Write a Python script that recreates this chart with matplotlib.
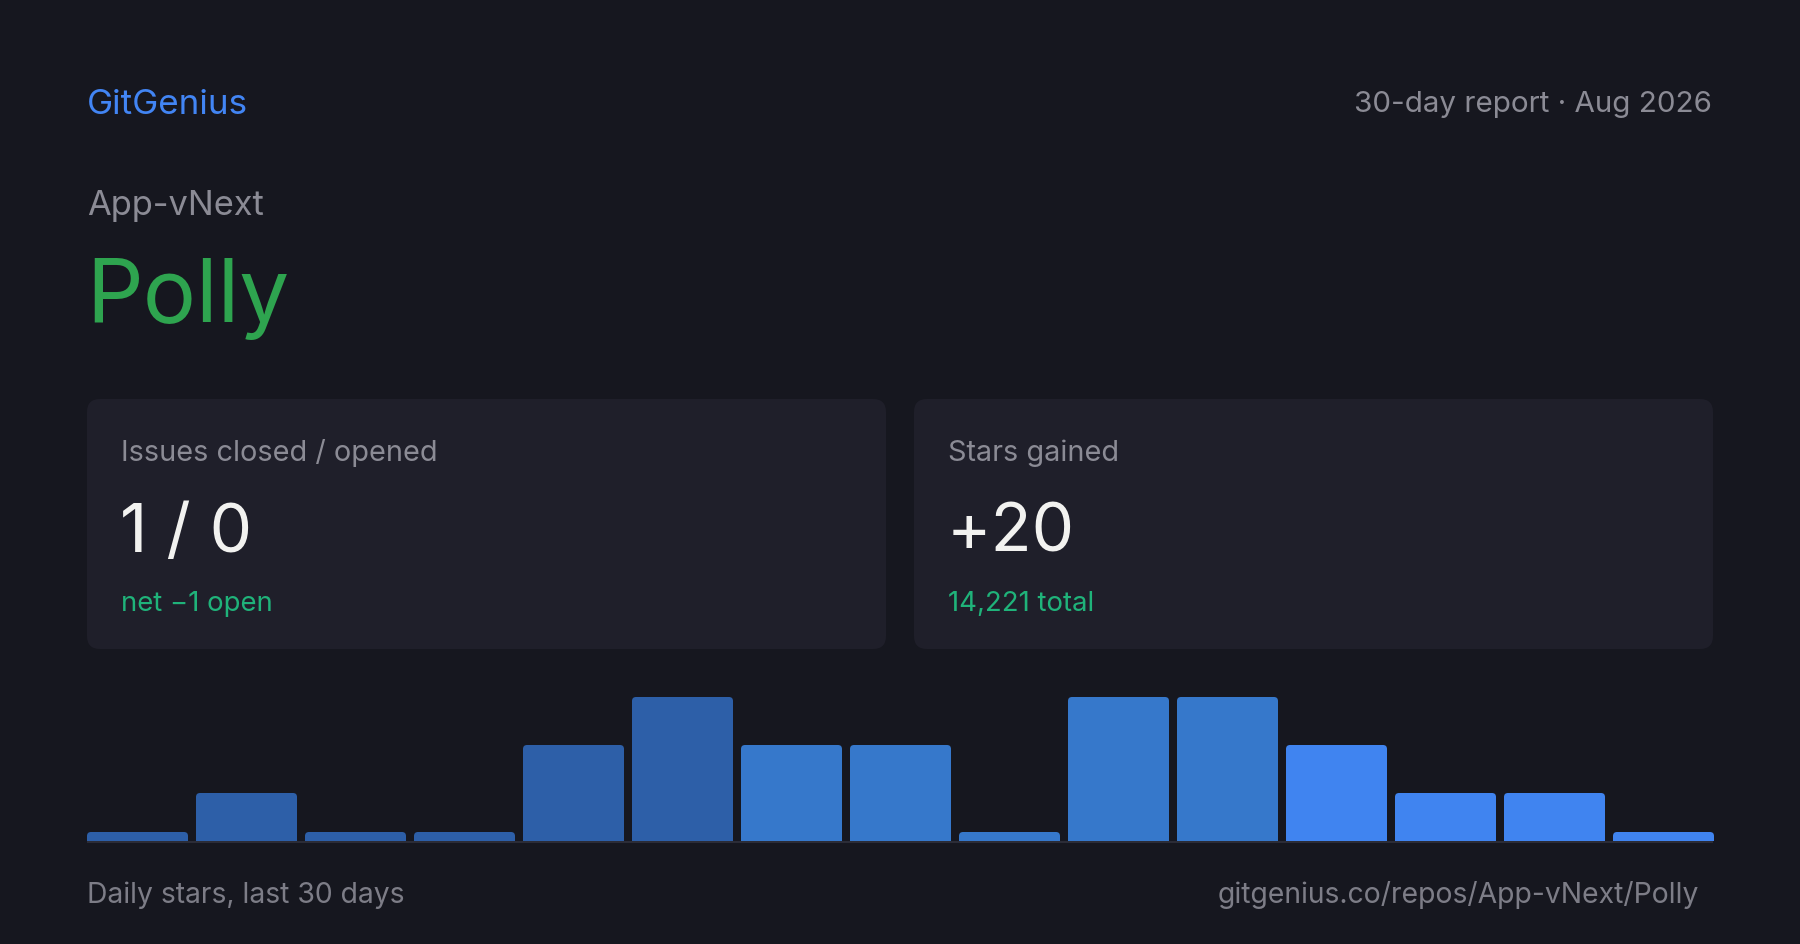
import matplotlib
matplotlib.use("Agg")
import matplotlib.pyplot as plt
from matplotlib.patches import FancyBboxPatch, Rectangle

# Данные карточки
owner = "App-vNext"
repo = "Polly"
brand = "GitGenius"
period = "30-day report · Aug 2026"
issues_label = "Issues closed / opened"
issues_value = "1 / 0"
issues_note = "net −1 open"
stars_label = "Stars gained"
stars_value = "+20"
stars_note = "14,221 total"
footer_left = "Daily stars, last 30 days"
footer_right = "gitgenius.co/repos/App-vNext/Polly"

# Звёзды по интервалам (15 столбцов за 30 дней)
daily_stars = [0, 1, 0, 0, 2, 3, 2, 2, 0, 3, 3, 2, 1, 1, 0]
bar_colors = ["#2d5fa8"] * 6 + ["#3678cb"] * 5 + ["#4084f0"] * 4

BG = "#16171f"
CARD = "#1f1f2a"
GRAY = "#8b8b95"
FONT = "Inter"

W, H = 1800, 945
fig = plt.figure(figsize=(W / 100, H / 100), dpi=100, facecolor=BG)

# Оси в пикселях для текста и карточек
lay = fig.add_axes([0, 0, 1, 1])
lay.set_xlim(0, W)
lay.set_ylim(H, 0)
lay.axis("off")
lay.set_facecolor(BG)


def txt(x, y, s, size, color, ha="left"):
    lay.text(x, y, s, fontsize=size, color=color, ha=ha, va="baseline",
             family=FONT)


txt(87, 114, brand, 25.2, "#4285f4")
txt(1712, 112, period, 21.3, GRAY, ha="right")
txt(87, 215, owner, 24.8, GRAY)
txt(86, 322, repo, 64, "#2ea44f")

cards = [(87, issues_label, issues_value, issues_note),
         (914, stars_label, stars_value, stars_note)]
for x0, label, value, note in cards:
    lay.add_patch(FancyBboxPatch((x0, 400), 799, 250,
                                 boxstyle="round,pad=0,rounding_size=13",
                                 facecolor=CARD, edgecolor="none"))
    txt(x0 + 34, 461, label, 20.8, GRAY)
    txt(x0 + 33, 552, value, 48.5, "#f2f2f0")
    txt(x0 + 34, 611, note, 19.8, "#1fb37a")

txt(87, 903, footer_left, 20.4, "#7d7d87")
txt(1699, 903, footer_right, 20.4, "#7d7d87", ha="right")

# Базовая линия под столбцами
lay.plot([87, 1713], [843, 843], color="#2b2c37", linewidth=1.5,
         solid_capstyle="butt")

# Столбчатая диаграмма
top_px, base_px = 698, 842
left_px, right_px = 87, 1714
ax = fig.add_axes([left_px / W, (H - base_px) / H,
                   (right_px - left_px) / W, (base_px - top_px) / H])
ax.set_facecolor("none")
ymax = max(daily_stars)
stub = ymax * 9 / (base_px - top_px)  # нулевые дни показываются полоской
heights = [max(v, stub) for v in daily_stars]
width = 101 / 109
bars = ax.bar(range(len(heights)), heights, width=width, color=bar_colors,
              linewidth=0)
ax.set_xlim(-width / 2, len(heights) - 1 + width / 2)
ax.set_ylim(0, ymax)
ax.axis("off")

# скругляем верхние углы столбцов
px_x = (right_px - left_px) / (len(heights) - 1 + width)
px_y = (base_px - top_px) / ymax
r = 4 / px_x
for b in bars:
    b.set_visible(False)
    x, y, w, h = b.get_x(), b.get_y(), b.get_width(), b.get_height()
    c = b.get_facecolor()
    ax.add_patch(FancyBboxPatch((x, y), w, h,
                                boxstyle=f"round,pad=0,rounding_size={r}",
                                mutation_aspect=px_x / px_y,
                                facecolor=c, edgecolor="none"))
    ax.add_patch(Rectangle((x, y), w, h / 2, facecolor=c, edgecolor="none"))

fig.savefig("out.png", dpi=100, facecolor=BG)
